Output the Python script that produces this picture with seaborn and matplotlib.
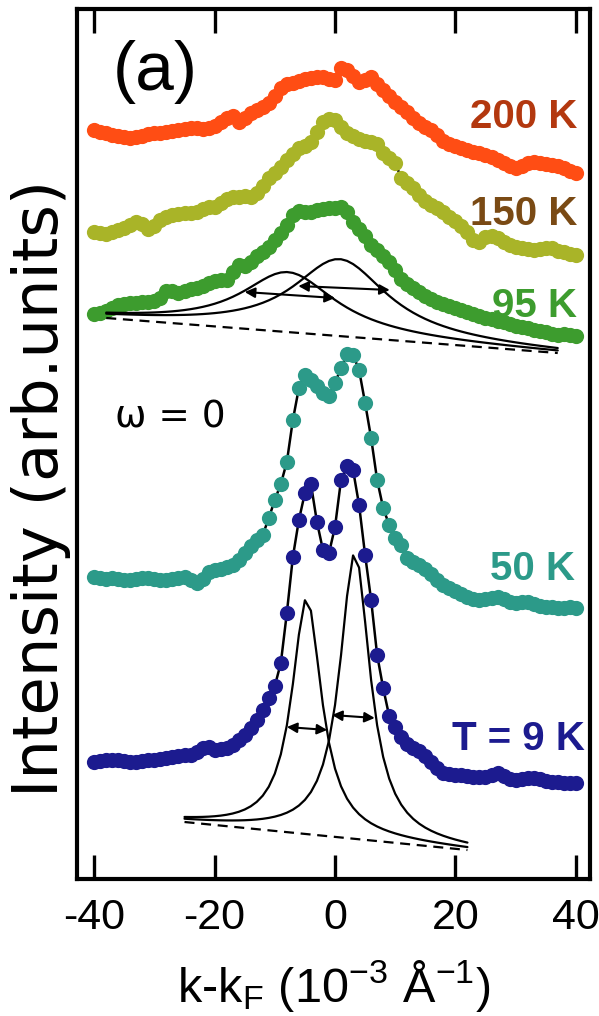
import numpy as np
import pandas as pd
import matplotlib
matplotlib.use("Agg")
import matplotlib.pyplot as plt
import seaborn as sns

# momentum grid (10^-3 1/Å)
k = np.arange(-40, 41)

# MDC intensities at the Fermi level, stacked with vertical offsets (arb. units)
i_200K = [748, 746, 745, 743, 742, 741, 740, 741, 742, 744,
          745, 745, 746, 747, 748, 749, 750, 750, 749, 750,
          752, 756, 760, 762, 756, 760, 765, 768, 771, 775,
          782, 790, 794, 795, 797, 799, 800, 801, 801, 799,
          798, 810, 808, 802, 796, 798, 801, 794, 788, 782,
          776, 771, 766, 760, 755, 751, 748, 743, 737, 734,
          732, 730, 728, 726, 725, 723, 721, 718, 715, 712,
          710, 712, 715, 716, 715, 714, 713, 712, 710, 707,
          705]
i_150K = [646, 645, 644, 646, 648, 650, 653, 656, 654, 649,
          652, 658, 661, 663, 664, 665, 665, 666, 669, 671,
          671, 675, 679, 681, 681, 682, 681, 685, 692, 700,
          705, 711, 718, 724, 730, 732, 736, 746, 756, 759,
          758, 751, 745, 742, 739, 737, 736, 734, 725, 720,
          715, 700, 695, 690, 683, 677, 673, 670, 666, 661,
          657, 652, 646, 638, 636, 641, 642, 640, 636, 633,
          631, 630, 629, 628, 629, 630, 630, 627, 626, 624,
          623]
i_95K = [564, 565, 567, 570, 573, 574, 575, 575, 576, 576,
         577, 580, 587, 587, 585, 587, 589, 590, 592, 595,
         597, 598, 598, 606, 613, 612, 616, 622, 626, 631,
         638, 645, 653, 663, 667, 666, 666, 668, 669, 670,
         670, 671, 666, 656, 649, 642, 633, 628, 622, 616,
         608, 599, 594, 590, 586, 582, 579, 576, 574, 572,
         570, 568, 566, 564, 562, 560, 559, 557, 556, 554,
         552, 551, 550, 548, 547, 546, 544, 543, 544, 543,
         542]
i_50K = [301, 300, 299, 300, 299, 298, 298, 299, 300, 300,
         299, 298, 298, 299, 300, 301, 298, 295, 299, 306,
         308, 309, 311, 313, 318, 325, 332, 338, 343, 360,
         378, 394, 416, 458, 490, 503, 498, 492, 485, 482,
         495, 510, 524, 523, 508, 475, 440, 398, 370, 353,
         340, 333, 320, 316, 313, 309, 304, 298, 293, 290,
         287, 284, 281, 279, 278, 279, 280, 281, 279, 276,
         275, 276, 276, 274, 272, 271, 271, 270, 270, 271,
         270]
i_9K = [116, 117, 118, 118, 118, 117, 116, 116, 117, 118,
        118, 119, 120, 121, 122, 123, 123, 126, 130, 131,
        128, 129, 130, 133, 138, 143, 150, 158, 168, 180,
        192, 215, 265, 321, 358, 385, 394, 356, 328, 325,
        351, 398, 412, 408, 373, 323, 278, 223, 190, 162,
        151, 141, 134, 130, 127, 122, 116, 110, 105, 104,
        103, 103, 102, 101, 101, 101, 103, 105, 102, 99,
        98, 99, 100, 100, 99, 97, 96, 96, 95, 95,
        95]

spectra = [i_200K, i_150K, i_95K, i_50K, i_9K]
temp_labels = ["200 K", "150 K", "95 K", "50 K", "T = 9 K"]
dot_colors = ["#ff4d14", "#a9b428", "#3d9c2e", "#2c9a89", "#1c1b8f"]
label_colors = ["#b3380f", "#7a4a14", "#3d9c2e", "#2c9a89", "#1c1b8f"]
label_k = [40.2, 40.2, 40.2, 39.9, 41.5]
label_i = [750, 653, 561, 298, 128]

# two-Lorentzian decomposition with linear background
k_95 = np.arange(-38, 38)
bg_95 = [560, 525]
center_95 = [-7.8, 0.8]
amp_95 = [60, 77]
hwhm_95 = [9.5, 9.5]

k_9 = np.arange(-25, 23)
bg_9 = [56, 28]
center_9 = [-4.7, 3.3]
amp_9 = [236, 286]
hwhm_9 = [3.0, 3.05]

# peak-width arrows: (k_start, I_start, k_end, I_end)
width_arrows = [(-15.0, 586, 0.0, 580),
                (-6.1, 592, 9.1, 588),
                (-8.0, 151, -1.3, 148),
                (-0.5, 163, 6.6, 160)]

sns.set_theme(style="ticks")
plt.rcParams["font.family"] = ["Liberation Sans", "DejaVu Sans"]
plt.rcParams["axes.unicode_minus"] = False
plt.rcParams["mathtext.default"] = "regular"
plt.rcParams["text.color"] = "black"
plt.rcParams["axes.labelcolor"] = "black"
plt.rcParams["xtick.color"] = "black"

fig = plt.figure(figsize=(5.99, 10.16), dpi=100)
ax = fig.add_axes([77 / 599, 137 / 1016, 513 / 599, 870 / 1016])

df = pd.DataFrame({
    "k": np.tile(k, len(spectra)),
    "I": np.concatenate(spectra),
    "T": np.repeat(temp_labels, len(k)),
})

for lab, col in zip(temp_labels, dot_colors):
    sub = df[df["T"] == lab]
    sns.lineplot(data=sub, x="k", y="I", color="black", lw=1.8,
                 estimator=None, sort=False, ax=ax, zorder=2)
    sns.scatterplot(data=sub, x="k", y="I", color=col, s=120,
                    linewidth=0, ax=ax, zorder=3)


def decomposition(kk, bg, centers, amps, widths):
    base = np.interp(kk, [kk[0], kk[-1]], bg)
    sns.lineplot(x=kk, y=base, color="black", lw=1.6,
                 linestyle=(0, (4.5, 3)), ax=ax, zorder=4)
    for c, a, w in zip(centers, amps, widths):
        comp = base + a * w ** 2 / ((kk - c) ** 2 + w ** 2)
        sns.lineplot(x=kk, y=comp, color="black", lw=1.6, ax=ax, zorder=4)


decomposition(k_95, bg_95, center_95, amp_95, hwhm_95)
decomposition(k_9, bg_9, center_9, amp_9, hwhm_9)

for k0, i0, k1, i1 in width_arrows:
    ax.annotate("", xy=(k1, i1), xytext=(k0, i0),
                arrowprops=dict(arrowstyle="<|-|>", lw=1.5, color="black",
                                mutation_scale=15, shrinkA=0, shrinkB=0),
                zorder=5)

for lab, col, kx, iy in zip(temp_labels, label_colors, label_k, label_i):
    ax.text(kx, iy, lab, ha="right", va="baseline", color=col,
            fontsize=29, fontweight="bold", family="Liberation Sans")

ax.text(-36.9, 788, "(a)", ha="left", va="baseline", fontsize=50,
        family="Liberation Sans", color="black")
ax.text(-36.6, 451, "ω = 0", ha="left", va="baseline", fontsize=27,
        family="DejaVu Sans", color="black")

ax.set_xlim(-42.86, 42.36)
ax.set_ylim(-1, 869)
ax.set_xticks([-40, -20, 0, 20, 40])
ax.set_xticklabels(["-40", "-20", "0", "20", "40"], fontsize=31,
                   family="Liberation Sans", color="black")
ax.set_yticks([])
ax.tick_params(axis="x", which="both", direction="in", top=True,
               bottom=True, labeltop=False, length=17, width=2.4,
               pad=14, colors="black")
for sp in ax.spines.values():
    sp.set_linewidth(3)
    sp.set_color("black")

ax.set_xlabel(r"k-k$_F$ (10$^{-3}$ Å$^{-1}$)", fontsize=35,
              family="Liberation Sans", va="baseline", color="black")
ax.xaxis.set_label_coords(0.501, -0.1414)
ax.set_ylabel("Intensity (arb.units)", fontsize=45, family="DejaVu Sans",
              va="center", ha="center", color="black")
ax.yaxis.set_label_coords(-0.0702, 0.449)

fig.savefig("out.png", dpi=100)
